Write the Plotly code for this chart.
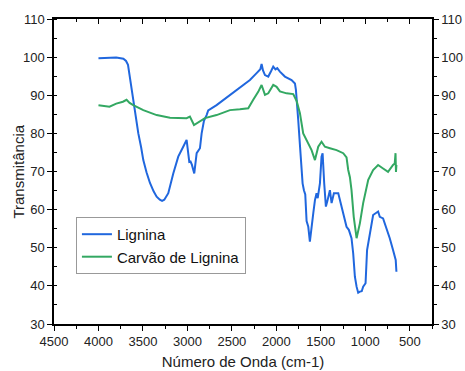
import plotly.graph_objects as go

wn_lignina = [4000, 3900, 3800, 3720, 3690, 3668, 3640, 3609, 3580, 3552, 3520, 3496, 3460, 3421, 3380, 3346,
              3310, 3285, 3260, 3215, 3159, 3103, 3047, 3009, 2979, 2965, 2950, 2923, 2896, 2859, 2840, 2814,
              2784, 2766, 2672, 2522, 2410, 2372, 2297, 2222, 2180, 2166, 2150, 2128, 2091, 2060, 2035, 2010,
              1990, 1960, 1904, 1829, 1791, 1780, 1772, 1754, 1735, 1716, 1705, 1690, 1675, 1660, 1641, 1623,
              1604, 1585, 1566, 1548, 1535, 1510, 1492, 1480, 1462, 1443, 1428, 1398, 1379, 1353, 1304, 1285,
              1248, 1211, 1185, 1155, 1136, 1117, 1098, 1080, 1061, 1040, 1024, 997, 980, 957, 931, 912, 856,
              837, 800, 762, 725, 688, 658, 650]
t_lignina = [99.7, 99.8, 99.9, 99.6, 99.0, 98.0, 93.5, 88.8, 84.2, 80.0, 76.3, 73.0, 69.8, 67.0, 64.8, 63.4,
             62.6, 62.3, 62.6, 64.3, 69.5, 73.9, 76.5, 78.3, 72.5, 72.6, 71.8, 69.5, 74.8, 76.1, 80.0, 83.3,
             84.8, 86.0, 87.4, 90.1, 92.1, 92.7, 94.0, 95.8, 96.8, 98.2, 96.5, 95.3, 94.9, 96.3, 97.5, 96.8,
             97.1, 96.2, 94.9, 94.0, 93.1, 91.4, 88.0, 83.5, 77.0, 68.6, 66.9, 65.1, 64.0, 57.0, 55.5, 51.6,
             54.7, 59.0, 62.5, 64.3, 63.0, 66.9, 73.9, 74.8, 66.9, 60.8, 62.1, 65.1, 61.7, 64.3, 64.3, 62.5,
             59.5, 55.5, 54.7, 52.5, 48.5, 42.4, 39.8, 38.2, 38.5, 38.6, 39.8, 40.7, 49.4, 52.9, 56.4, 58.6, 59.5,
             58.1, 57.7, 55.1, 52.5, 49.4, 46.8, 43.7]

wn_carvao = [4000, 3876, 3800, 3725, 3684, 3650, 3609, 3496, 3346, 3196, 3009, 2972, 2926, 2859, 2803, 2672,
             2522, 2410, 2316, 2260, 2204, 2166, 2128, 2091, 2035, 1997, 1960, 1885, 1810, 1772, 1735, 1698,
             1660, 1604, 1566, 1529, 1492, 1454, 1398, 1323, 1248, 1211, 1192, 1173, 1155, 1130, 1098, 1061,
             1024, 994, 967, 912, 856, 800, 744, 688, 669, 660, 655, 650]
t_carvao = [87.4, 87.0, 87.8, 88.3, 88.8, 88.0, 87.4, 86.1, 84.8, 84.1, 84.0, 84.4, 82.2, 83.1, 84.0, 84.8,
            86.1, 86.3, 86.6, 88.8, 90.9, 92.7, 90.1, 90.5, 92.7, 92.2, 91.0, 90.5, 90.3, 88.5, 85.3, 80.0,
            78.3, 75.6, 73.0, 76.5, 77.8, 76.5, 76.1, 75.6, 74.8, 73.7, 70.4, 68.5, 65.1, 58.1, 52.5, 56.4,
            61.7, 65.1, 67.8, 70.4, 71.7, 70.8, 69.9, 71.7, 72.1, 74.8, 69.9, 71.7]

x_range = [4500, 250]
y_range = [30, 110]

fig = go.Figure()
fig.add_trace(go.Scatter(x=wn_lignina, y=t_lignina, mode="lines", name="Lignina",
                         line=dict(color="#2067DE", width=2)))
fig.add_trace(go.Scatter(x=wn_carvao, y=t_carvao, mode="lines", name="Carvão de Lignina",
                         line=dict(color="#33A862", width=2), xaxis="x2", yaxis="y2"))

font = "Liberation Sans, Arial, sans-serif"
fig.update_layout(
    width=465, height=371,
    margin=dict(l=54, r=33, t=19, b=47, autoexpand=False),
    paper_bgcolor="white", plot_bgcolor="white",
    font=dict(family=font, size=13, color="#222"),
    showlegend=True,
    legend=dict(x=0.058, y=0.351, xanchor="left", yanchor="top",
                bordercolor="#999", borderwidth=1, bgcolor="white",
                font=dict(size=15, family=font, color="#111"),
                tracegroupgap=0, itemwidth=30),
    xaxis=dict(range=x_range, dtick=500, tick0=0, showgrid=False, zeroline=False, automargin=False,
               showline=True, linecolor="black", linewidth=1.5,
               ticks="outside", ticklen=5, tickwidth=1.2, tickcolor="black",
               minor=dict(dtick=250, tick0=0, ticks="outside", ticklen=3, tickcolor="black", showgrid=False),
               title=dict(text="Número de Onda (cm-1)", font=dict(size=15), standoff=8),
               tickfont=dict(size=13)),
    xaxis2=dict(range=x_range, dtick=500, tick0=0, overlaying="x", side="top", showgrid=False,
                zeroline=False, showline=True, linecolor="black", linewidth=1.5, automargin=False,
                ticks="inside", ticklen=5, tickwidth=1.2, tickcolor="black", showticklabels=False,
                minor=dict(dtick=250, tick0=0, ticks="inside", ticklen=3, tickcolor="black", showgrid=False)),
    yaxis=dict(range=y_range, dtick=10, showgrid=False, zeroline=False, automargin=False,
               showline=True, linecolor="black", linewidth=1.5,
               ticks="outside", ticklen=5, tickwidth=1.2, tickcolor="black",
               minor=dict(dtick=5, ticks="inside", ticklen=3, tickcolor="black", showgrid=False),
               tickfont=dict(size=13)),
    yaxis2=dict(range=y_range, dtick=10, overlaying="y", side="right", showgrid=False, zeroline=False,
                showline=True, linecolor="black", linewidth=1.5, automargin=False,
                ticks="outside", ticklen=5, tickwidth=1.2, tickcolor="black",
                minor=dict(dtick=5, ticks="outside", ticklen=3, tickcolor="black", showgrid=False),
                tickfont=dict(size=13)),
    annotations=[dict(text="Transmitância", xref="paper", yref="paper", x=-0.095, y=0.5,
                      xanchor="center", yanchor="middle", textangle=-90, showarrow=False,
                      font=dict(size=15, family=font, color="#222"))],
)

fig.write_html("out.html", config={"displayModeBar": False},
               post_script="document.body.style.margin='0';document.body.style.overflow='hidden';")
